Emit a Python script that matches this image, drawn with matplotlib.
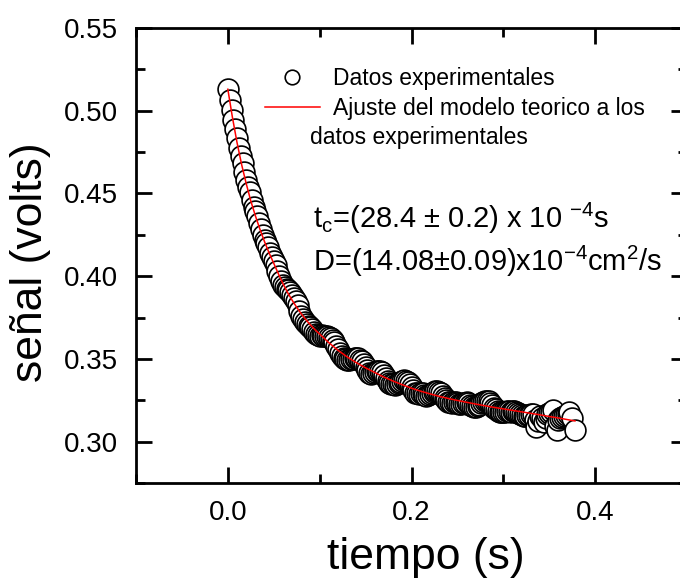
import matplotlib
matplotlib.use("Agg")
import numpy as np
from matplotlib import pyplot as plt
from matplotlib.ticker import MultipleLocator

plt.rcParams['font.family'] = ['Liberation Sans', 'DejaVu Sans']
plt.rcParams['mathtext.fontset'] = 'custom'
plt.rcParams['mathtext.rm'] = 'Liberation Sans'
plt.rcParams['mathtext.it'] = 'Liberation Sans'

tiempo = [0.000, 0.002, 0.004, 0.006, 0.008, 0.010, 0.012, 0.014, 0.016, 0.018,
          0.020, 0.022, 0.024, 0.026, 0.028, 0.030, 0.032, 0.034, 0.036, 0.038,
          0.040, 0.042, 0.044, 0.046, 0.048, 0.050, 0.052, 0.054, 0.056, 0.058,
          0.060, 0.062, 0.064, 0.066, 0.068, 0.070, 0.072, 0.074, 0.076, 0.078,
          0.080, 0.082, 0.084, 0.086, 0.088, 0.090, 0.092, 0.094, 0.096, 0.098,
          0.100, 0.102, 0.104, 0.106, 0.108, 0.110, 0.112, 0.114, 0.116, 0.118,
          0.120, 0.122, 0.124, 0.126, 0.128, 0.130, 0.132, 0.134, 0.136, 0.138,
          0.140, 0.142, 0.144, 0.146, 0.148, 0.150, 0.152, 0.154, 0.156, 0.158,
          0.160, 0.162, 0.164, 0.166, 0.168, 0.170, 0.172, 0.174, 0.176, 0.178,
          0.180, 0.182, 0.184, 0.186, 0.188, 0.190, 0.192, 0.194, 0.196, 0.198,
          0.200, 0.202, 0.204, 0.206, 0.208, 0.210, 0.212, 0.214, 0.216, 0.218,
          0.220, 0.222, 0.224, 0.226, 0.228, 0.230, 0.232, 0.234, 0.236, 0.238,
          0.240, 0.242, 0.244, 0.246, 0.248, 0.250, 0.252, 0.254, 0.256, 0.258,
          0.260, 0.262, 0.264, 0.266, 0.268, 0.270, 0.272, 0.274, 0.276, 0.278,
          0.280, 0.282, 0.284, 0.286, 0.288, 0.290, 0.292, 0.294, 0.296, 0.298,
          0.300, 0.302, 0.304, 0.306, 0.308, 0.310, 0.312, 0.314, 0.316, 0.318,
          0.320, 0.322, 0.324, 0.326, 0.328, 0.330, 0.332, 0.334, 0.336, 0.338,
          0.340, 0.342, 0.344, 0.346, 0.348, 0.350, 0.352, 0.354, 0.356, 0.358,
          0.360, 0.362, 0.364, 0.366, 0.368, 0.370, 0.372, 0.375, 0.378]
senal = [0.5130, 0.5066, 0.5004, 0.4944, 0.4889, 0.4833, 0.4775, 0.4726, 0.4682, 0.4630,
         0.4580, 0.4541, 0.4506, 0.4460, 0.4421, 0.4393, 0.4362, 0.4322, 0.4288, 0.4250,
         0.4218, 0.4198, 0.4174, 0.4140, 0.4113, 0.4092, 0.4065, 0.4030, 0.4003, 0.3971,
         0.3945, 0.3936, 0.3923, 0.3916, 0.3904, 0.3889, 0.3868, 0.3848, 0.3824, 0.3790,
         0.3762, 0.3741, 0.3724, 0.3709, 0.3698, 0.3692, 0.3683, 0.3665, 0.3651, 0.3643,
         0.3640, 0.3643, 0.3641, 0.3641, 0.3637, 0.3635, 0.3629, 0.3617, 0.3600, 0.3580,
         0.3562, 0.3537, 0.3516, 0.3505, 0.3500, 0.3496, 0.3495, 0.3497, 0.3501, 0.3506,
         0.3507, 0.3503, 0.3495, 0.3485, 0.3472, 0.3450, 0.3430, 0.3416, 0.3409, 0.3412,
         0.3418, 0.3425, 0.3428, 0.3425, 0.3418, 0.3402, 0.3385, 0.3368, 0.3356, 0.3349,
         0.3346, 0.3345, 0.3347, 0.3352, 0.3358, 0.3365, 0.3370, 0.3367, 0.3361, 0.3348,
         0.3333, 0.3312, 0.3296, 0.3291, 0.3289, 0.3291, 0.3292, 0.3283, 0.3275, 0.3281,
         0.3289, 0.3297, 0.3303, 0.3306, 0.3307, 0.3300, 0.3291, 0.3278, 0.3266, 0.3252,
         0.3241, 0.3238, 0.3236, 0.3239, 0.3241, 0.3233, 0.3227, 0.3229, 0.3232, 0.3236,
         0.3238, 0.3231, 0.3224, 0.3215, 0.3209, 0.3211, 0.3215, 0.3222, 0.3231, 0.3240,
         0.3247, 0.3246, 0.3243, 0.3232, 0.3219, 0.3206, 0.3195, 0.3188, 0.3182, 0.3179,
         0.3178, 0.3182, 0.3184, 0.3183, 0.3181, 0.3185, 0.3187, 0.3181, 0.3174, 0.3166,
         0.3160, 0.3157, 0.3156, 0.3160, 0.3163, 0.3166, 0.3169, 0.3130, 0.3090, 0.3125,
         0.3155, 0.3140, 0.3120, 0.3145, 0.3165, 0.3172, 0.3178, 0.3190, 0.3095, 0.3070,
         0.3130, 0.3142, 0.3150, 0.3155, 0.3160, 0.3168, 0.3178, 0.3140, 0.3070]

# fitted model (red line)
t_ajuste = [0.000, 0.005, 0.010, 0.015, 0.020, 0.025, 0.030, 0.035, 0.040, 0.045,
            0.050, 0.055, 0.060, 0.065, 0.070, 0.075, 0.080, 0.085, 0.090, 0.095,
            0.100, 0.110, 0.120, 0.130, 0.140, 0.150, 0.160, 0.170, 0.180, 0.190,
            0.200, 0.210, 0.220, 0.230, 0.240, 0.250, 0.260, 0.270, 0.280, 0.290,
            0.300, 0.310, 0.320, 0.330, 0.340, 0.350, 0.360, 0.370, 0.378]
v_ajuste = [0.5130, 0.4960, 0.4808, 0.4675, 0.4560, 0.4455, 0.4365, 0.4283, 0.4208, 0.4140,
            0.4078, 0.4015, 0.3955, 0.3902, 0.3855, 0.3812, 0.3772, 0.3737, 0.3705, 0.3676,
            0.3650, 0.3598, 0.3552, 0.3512, 0.3477, 0.3446, 0.3418, 0.3390, 0.3366, 0.3344,
            0.3323, 0.3305, 0.3289, 0.3274, 0.3261, 0.3249, 0.3238, 0.3227, 0.3217, 0.3207,
            0.3198, 0.3189, 0.3180, 0.3171, 0.3162, 0.3152, 0.3143, 0.3133, 0.3125]

fig = plt.figure(figsize=(6.8, 5.79), dpi=100)
ax = fig.add_axes([0.2, 0.1658, 0.8103, 0.7858])

ax.plot(tiempo, senal, 'o', ms=15, mfc='white', mec='black', mew=1.2,
        label='Datos experimentales', zorder=2)
ax.plot(t_ajuste, v_ajuste, '-', color='#ff0000', lw=1.1,
        label='Ajuste del modelo teorico a los', zorder=3)

ax.set_xlim(-0.1, 0.5)
ax.set_ylim(0.275, 0.55)
ax.xaxis.set_major_locator(MultipleLocator(0.2))
ax.xaxis.set_minor_locator(MultipleLocator(0.1))
ax.yaxis.set_major_locator(MultipleLocator(0.05))
ax.yaxis.set_minor_locator(MultipleLocator(0.025))
ax.xaxis.set_major_formatter(plt.FuncFormatter(lambda v, p: f"{v:.1f}"))
ax.yaxis.set_major_formatter(plt.FuncFormatter(lambda v, p: f"{v:.2f}"))

ax.tick_params(which='both', direction='in', top=True, right=True, width=2, labelsize=20)
ax.tick_params(which='major', length=11.5)
ax.tick_params(which='minor', length=6.5)
ax.tick_params(axis='y', pad=13)
ax.tick_params(axis='x', pad=12)
for s in ax.spines.values():
    s.set_linewidth(2)

ax.set_xlabel('tiempo (s)', fontsize=32)
ax.xaxis.set_label_coords(0.526, -0.118)
ax.set_ylabel('señal (volts)', fontsize=32)
ax.yaxis.set_label_coords(-0.155, 0.486)

ax.legend(loc='upper left', bbox_to_anchor=(0.2341, 0.9143), frameon=False,
          fontsize=16.5, markerscale=0.7, handlelength=2.4, handletextpad=0.57,
          borderpad=0, borderaxespad=0, labelspacing=0.3)
ax.text(0.3158, 0.7600, 'datos experimentales', transform=ax.transAxes,
        fontsize=16.5, va='center', ha='left')

ax.text(0.3212, 0.5604, 't$_{c}$=(28.4 ± 0.2) x 10 $^{-4}$s',
        transform=ax.transAxes, fontsize=21, va='baseline')
ax.text(0.3212, 0.4659, 'D=(14.08±0.09)x10$^{-4}$cm$^{2}$/s',
        transform=ax.transAxes, fontsize=21, va='baseline')

fig.savefig('out.png', dpi=100)
